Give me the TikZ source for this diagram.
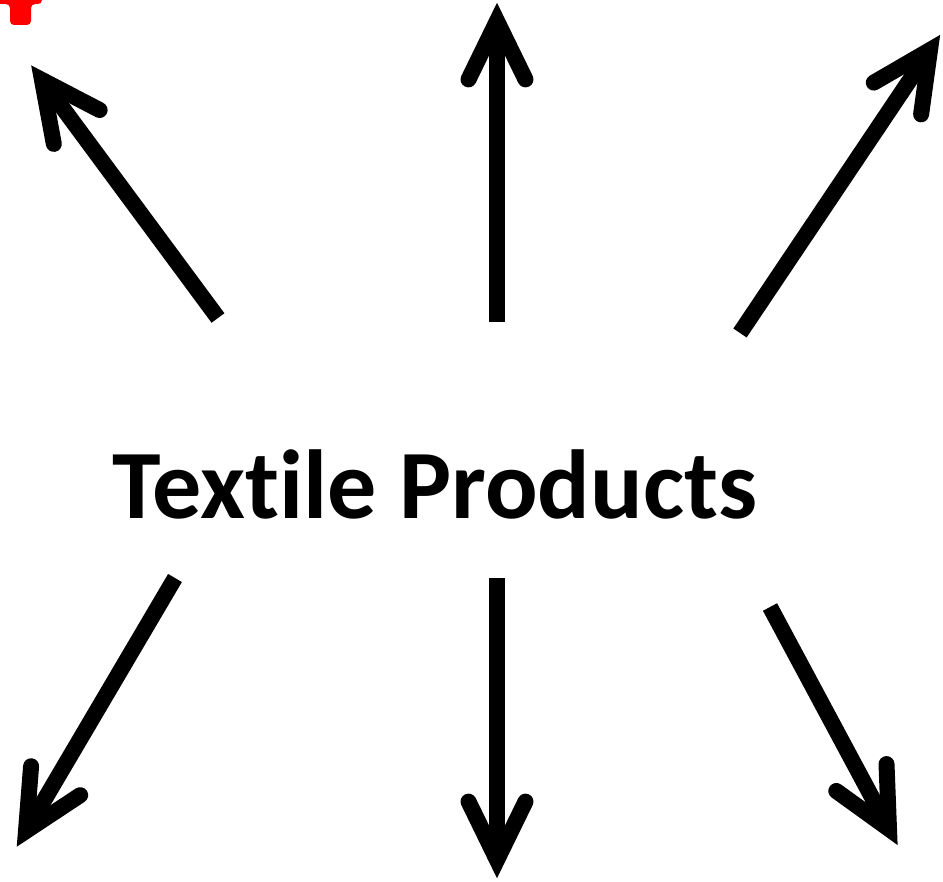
\documentclass[tikz,border=0pt]{standalone}
\usepackage{fontspec}
\setmainfont{Carlito}[Ligatures={NoCommon}]
\usetikzlibrary{calc}

\begin{document}
\begin{tikzpicture}[x=0.02cm,y=-0.02cm,
        shaft/.style={black,line width=0.32cm,line cap=butt},
        barb/.style={black,line width=0.32cm,line cap=round,line join=miter}]
        \useasboundingbox (0,0) rectangle (943,882);
        % red mark cut off at the top left corner
        \fill[red,rounded corners=0.08cm]
          (-10,-10) -- (42,-10) -- (42,4) -- (31,4) -- (31,25) -- (10,25)
          -- (10,4) -- (-10,4) -- cycle;
        \node[font=\bfseries\fontsize{55.8}{60}\selectfont,anchor=base,
          inner sep=0pt] (title) at (435,518) {Textile Products};
        % tails and tips of the six arrows
        \coordinate (ulTail) at (218,318);  \coordinate (ulTip) at (42,80);
        \coordinate (upTail) at (497,322);  \coordinate (upTip) at (497,21);
        \coordinate (urTail) at (740,333);  \coordinate (urTip) at (930,50);
        \coordinate (llTail) at (175,578);  \coordinate (llTip) at (26,831);
        \coordinate (dnTail) at (497,578);  \coordinate (dnTip) at (497,860);
        \coordinate (lrTail) at (770,607);  \coordinate (lrTip) at (889,829);
        \foreach \a in {ul,up,ur,ll,dn,lr}{
          \draw[shaft] (\a Tail) -- (\a Tip);
          \draw[barb] ($(\a Tip)!1.3cm!26:(\a Tail)$) -- (\a Tip)
            -- ($(\a Tip)!1.3cm!-26:(\a Tail)$);
        }
      \end{tikzpicture}
\end{document}
